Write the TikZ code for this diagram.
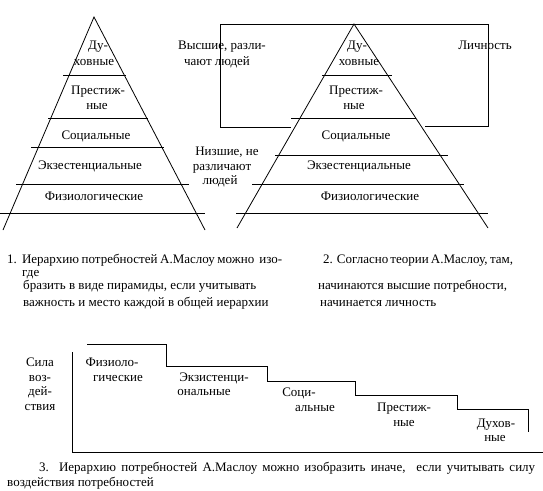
\documentclass[tikz,border=0pt]{standalone}
\usepackage{fontspec}
\setmainfont{Liberation Serif}
\newcommand{\fs}{\fontsize{13pt}{15pt}\selectfont}
\begin{document}
\begin{tikzpicture}[x=1pt,y=-1pt,
  ln/.style={line width=0.8pt},
  t/.style={inner sep=0pt,anchor=base,font=\fs},
  tl/.style={inner sep=0pt,anchor=base west,font=\fs}]
\useasboundingbox (0,0) rectangle (543,490);
% ---------- left pyramid ----------
\coordinate (LA) at (94,17);
\coordinate (LL) at (3,230);
\coordinate (LR) at (205,230);
\draw[ln] (LL) -- (LA) -- (LR);
\coordinate (l1a) at (63,75);  \coordinate (l1b) at (126,75);
\coordinate (l2a) at (48,118); \coordinate (l2b) at (148,118);
\coordinate (l3a) at (31,147); \coordinate (l3b) at (164,147);
\coordinate (l4a) at (16,184); \coordinate (l4b) at (189,184);
\coordinate (l5a) at (0,213);  \coordinate (l5b) at (205,213);
\draw[ln] (l1a) -- (l1b);
\draw[ln] (l2a) -- (l2b);
\draw[ln] (l3a) -- (l3b);
\draw[ln] (l4a) -- (l4b);
\draw[ln] (l5a) -- (l5b);
\node[t] (lt1) at (98,49) {Ду-};
\node[t] (lt2) at (94,65) {ховные};
\node[t] (lt3) at (98,94) {Престиж-};
\node[t] (lt4) at (97,109) {ные};
\node[t] (lt5) at (96,139) {Социальные};
\node[t] (lt6) at (90,169) {Экзестенциальные};
\node[t] (lt7) at (94,200) {Физиологические};
% ---------- right pyramid ----------
\coordinate (RA) at (354,24);
\coordinate (RL) at (237,228);
\coordinate (RR) at (488,228);
\draw[ln] (RL) -- (RA) -- (RR);
\coordinate (r1a) at (322,75);  \coordinate (r1b) at (392,75);
\coordinate (r2a) at (291,118); \coordinate (r2b) at (416,118);
\coordinate (r3a) at (275,155); \coordinate (r3b) at (448,155);
\coordinate (r4a) at (252,184); \coordinate (r4b) at (464,184);
\coordinate (r5a) at (236,213); \coordinate (r5b) at (488,213);
\draw[ln] (r1a) -- (r1b);
\draw[ln] (r2a) -- (r2b);
\draw[ln] (r3a) -- (r3b);
\draw[ln] (r4a) -- (r4b);
\draw[ln] (r5a) -- (r5b);
% frame
\coordinate (f1) at (291,127);
\coordinate (f2) at (220,127);
\coordinate (f3) at (220,24);
\coordinate (f4) at (488,24);
\coordinate (f5) at (488,126);
\coordinate (f6) at (425,126);
\draw[ln] (f1) -- (f2) -- (f3) -- (f4) -- (f5) -- (f6);
\node[t] (rt1) at (357,49) {Ду-};
\node[t] (rt2) at (359,65) {ховные};
\node[t] (rt3) at (356,94) {Престиж-};
\node[t] (rt4) at (354,109) {ные};
\node[t] (rt5) at (356,139) {Социальные};
\node[t] (rt6) at (359,169) {Экзестенциальные};
\node[t] (rt7) at (370,200) {Физиологические};
\node[t] (h1) at (222,49) {Высшие, разли-};
\node[t] (h2) at (217,65) {чают людей};
\node[t] (pers) at (485,49) {Личность};
\node[t] (n1) at (227,155) {Низшие, не};
\node[t] (n2) at (222,170) {различают};
\node[t] (n3) at (220,184) {людей};
% ---------- middle texts ----------
\node[tl] (c1) at (7,263) {\makebox[275pt][s]{1.\ \ Иерархию потребностей А.Маслоу можно \ изо-}};
\node[tl] (c2) at (22,276) {где};
\node[tl] (c3) at (23,289) {бразить в виде пирамиды, если учитывать};
\node[tl] (c4) at (23,306) {важность и место каждой в общей иерархии};
\node[tl] (d1) at (323,263) {\makebox[187pt][s]{2. Согласно теории А.Маслоу, там,}};
\node[tl] (d2) at (318,289) {начинаются высшие потребности,};
\node[tl] (d3) at (320,306) {начинается личность};
% ---------- bottom chart ----------
\coordinate (ax0) at (72,352);
\coordinate (ax1) at (72,452);
\coordinate (ax2) at (543,452);
\draw[ln] (ax0) -- (ax1) -- (ax2);
\coordinate (s0) at (87,344);
\coordinate (s1) at (166,344);
\coordinate (s2) at (166,366);
\coordinate (s3) at (267,366);
\coordinate (s4) at (267,381);
\coordinate (s5) at (355,381);
\coordinate (s6) at (355,395);
\coordinate (s7) at (457,395);
\coordinate (s8) at (457,409);
\coordinate (s9) at (528,409);
\coordinate (s10) at (528,432);
\draw[ln] (s0) -- (s1) -- (s2) -- (s3) -- (s4) -- (s5) -- (s6) -- (s7) -- (s8) -- (s9) -- (s10);
\node[t] (y1) at (40,366) {Сила};
\node[t] (y2) at (40,381) {воз-};
\node[t] (y3) at (40,395) {дей-};
\node[t] (y4) at (40,410) {ствия};
\node[t] (b1) at (112,366) {Физиоло-};
\node[t] (b2) at (118,381) {гические};
\node[t] (b3) at (214,381) {Экзистенци-};
\node[t] (b4) at (204,395) {ональные};
\node[t] (b5) at (299,396) {Соци-};
\node[t] (b6) at (315,411) {альные};
\node[t] (b7) at (404,411) {Престиж-};
\node[t] (b8) at (404,426) {ные};
\node[t] (b9) at (496,427) {Духов-};
\node[t] (b10) at (495,441) {ные};
\node[tl] (e1) at (39,471) {\makebox[496pt][s]{3. Иерархию потребностей А.Маслоу можно изобразить иначе, \ если учитывать силу}};
\node[tl] (e2) at (7,486) {воздействия потребностей};
\end{tikzpicture}
\end{document}
